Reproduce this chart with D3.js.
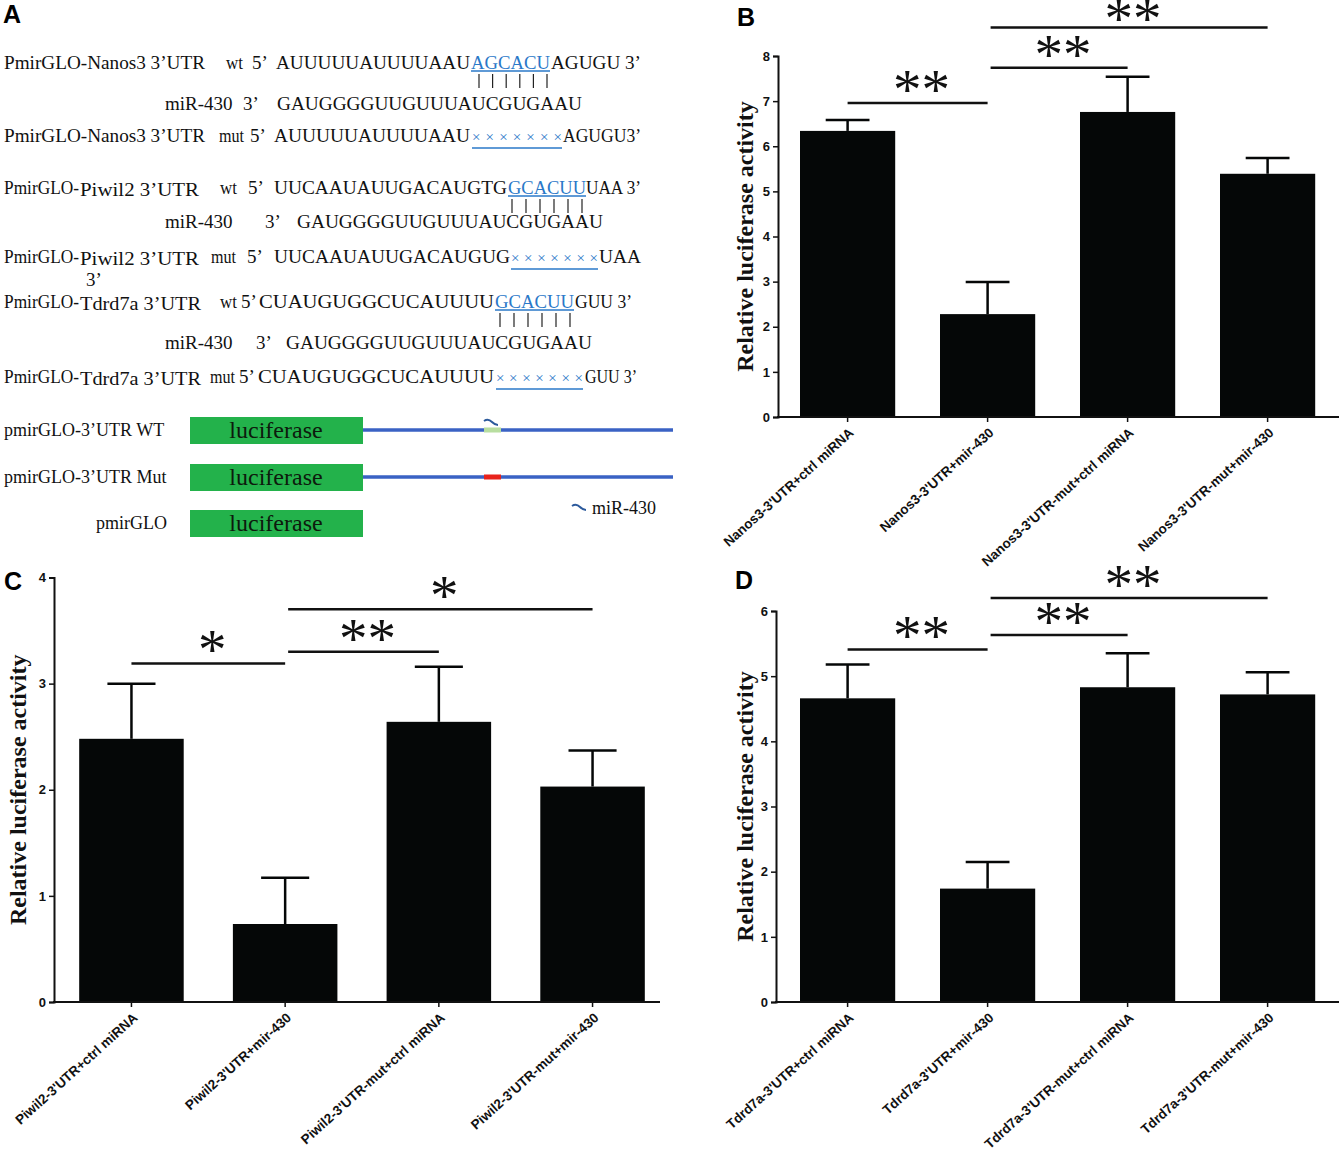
<!DOCTYPE html>
<html>
<head>
<meta charset="utf-8">
<script src="https://cdn.jsdelivr.net/npm/d3@7"></script>
<style>
  body { margin: 0; background: #fff; }
  svg { display: block; }
  .seq { font-family: "Liberation Serif", "Times New Roman", serif; font-size: 19px; }
  .tick-num { font-family: "Liberation Sans", Arial, sans-serif; font-weight: bold; font-size: 13px; fill: #111; }
  .cat { font-family: "Liberation Sans", Arial, sans-serif; font-weight: bold; font-size: 13.5px; fill: #111; }
  .ylab { font-family: "Liberation Serif", "Times New Roman", serif; font-weight: bold; font-size: 24px; fill: #111; }
  .star { font-family: "Liberation Serif", "Times New Roman", serif; font-size: 57px; fill: #111; }
  .panel { font-family: "Liberation Sans", Arial, sans-serif; font-weight: bold; font-size: 25px; fill: #000; }
</style>
</head>
<body>
<div id="fig"></div>
<script>
// ---- data ----
var catsB = ["Nanos3-3'UTR+ctrl miRNA", "Nanos3-3'UTR+mir-430", "Nanos3-3'UTR-mut+ctrl miRNA", "Nanos3-3'UTR-mut+mir-430"]
var valsB = [6.34, 2.28, 6.76, 5.39]
var errsB = [0.24, 0.71, 0.78, 0.35]
var ticksB = [0, 1, 2, 3, 4, 5, 6, 7, 8]
var sigsB = [[0, 1, "**", 6.96], [1, 2, "**", 7.74], [1, 3, "**", 8.63]]

var catsC = ["Piwil2-3'UTR+ctrl miRNA", "Piwil2-3'UTR+mir-430", "Piwil2-3'UTR-mut+ctrl miRNA", "Piwil2-3'UTR-mut+mir-430"]
var valsC = [2.48, 0.735, 2.64, 2.03]
var errsC = [0.52, 0.435, 0.52, 0.34]
var ticksC = [0, 1, 2, 3, 4]
var sigsC = [[0, 1, "*", 3.19], [1, 2, "**", 3.30], [1, 3, "*", 3.70]]

var catsD = ["Tdrd7a-3'UTR+ctrl miRNA", "Tdrd7a-3'UTR+mir-430", "Tdrd7a-3'UTR-mut+ctrl miRNA", "Tdrd7a-3'UTR-mut+mir-430"]
var valsD = [4.66, 1.74, 4.83, 4.72]
var errsD = [0.52, 0.41, 0.52, 0.34]
var ticksD = [0, 1, 2, 3, 4, 5, 6]
var sigsD = [[0, 1, "**", 5.41], [1, 2, "**", 5.63], [1, 3, "**", 6.2]]

var yLabel = "Relative luciferase activity"

// panel A sequence rows: [text, x, kind, width]
// kind: "" plain, "b" blue+underline, "x" blue crosses, "s" small gene name
var Q = "\u2019", X7 = "\u00d7\u00d7\u00d7\u00d7\u00d7\u00d7\u00d7"
var seqRows = [
  { y: 69, parts: [["PmirGLO-Nanos3 3" + Q + "UTR", 4, "", 201], ["wt", 226, "", 17], ["5" + Q, 252], ["AUUUUUAUUUUAAU", 276, "", 194], ["AGCACU", 471, "b", 79], ["AGUGU 3" + Q, 551, "", 90]], pairs: [479, 547] },
  { y: 110, parts: [["miR-430", 165], ["3" + Q, 243], ["GAUGGGGUUGUUUAUCGUGAAU", 277, "", 305]] },
  { y: 142, parts: [["PmirGLO-Nanos3 3" + Q + "UTR", 4, "", 201], ["mut", 219, "", 25], ["5" + Q, 250], ["AUUUUUAUUUUAAU", 274, "", 196], ["x", 472, "x", 90], ["AGUGU3" + Q, 563, "", 78]] },
  { y: 194, parts: [["PmirGLO-", 4, "", 75], ["Piwil2 3" + Q + "UTR", 80, "s", 119], ["wt", 220, "", 17], ["5" + Q, 248], ["UUCAAUAUUGACAUGTG", 274, "", 233], ["GCACUU", 508, "b", 78], ["UAA 3" + Q, 586, "", 55]], pairs: [512, 582] },
  { y: 228, parts: [["miR-430", 165], ["3" + Q, 265], ["GAUGGGGUUGUUUAUCGUGAAU", 297, "", 306]] },
  { y: 263, parts: [["PmirGLO-", 4, "", 75], ["Piwil2 3" + Q + "UTR", 80, "s", 119], ["mut", 211, "", 25], ["5" + Q, 247], ["UUCAAUAUUGACAUGUG", 274, "", 236], ["x", 511, "x", 87], ["UAA", 599, "", 42]] },
  { y: 286, parts: [["3" + Q, 86]] },
  { y: 308, parts: [["PmirGLO-", 4, "", 75], ["Tdrd7a 3" + Q + "UTR", 80, "s", 121], ["wt", 220, "", 17], ["5" + Q, 241], ["CUAUGUGGCUCAUUUU", 259, "", 235], ["GCACUU", 495, "b", 79], ["GUU 3" + Q, 575, "", 57]], pairs: [500, 570] },
  { y: 349, parts: [["miR-430", 165], ["3" + Q, 256], ["GAUGGGGUUGUUUAUCGUGAAU", 286, "", 306]] },
  { y: 383, parts: [["PmirGLO-", 4, "", 75], ["Tdrd7a 3" + Q + "UTR", 80, "s", 121], ["mut", 210, "", 25], ["5" + Q, 239], ["CUAUGUGGCUCAUUUU", 258, "", 236], ["x", 496, "x", 87], ["GUU 3" + Q, 585, "", 52]] }
]

var constructs = ["pmirGLO-3\u2019UTR WT", "pmirGLO-3\u2019UTR Mut", "pmirGLO"]
var siteColors = ["#b8dea0", "#e8231c", null]

var blueText = "#2a78c8"

var svg = d3.select("#fig").append("svg")
  .attr("width", 1342)
  .attr("height", 1170)
svg.append("rect").attr("width", 1342).attr("height", 1170).attr("fill", "#fff")

// panel letters
var letters = [["A", 3, 23], ["B", 737, 26], ["C", 4, 590], ["D", 735, 589]]
svg.selectAll("text.panel").data(letters).enter().append("text")
  .attr("class", "panel")
  .attr("x", function(d) { return d[1] })
  .attr("y", function(d) { return d[2] })
  .text(function(d) { return d[0] })

// ---- panel A: sequences ----
var gA = svg.append("g")
seqRows.forEach(function(row) {
  row.parts.forEach(function(p) {
    var kind = p[2] || ""
    var t = gA.append("text")
      .attr("class", "seq")
      .attr("x", p[1])
      .attr("y", row.y + (kind == "s" ? 2 : 0))
      .style("fill", (kind == "b" || kind == "x") ? blueText : "#111")
      .text(kind == "x" ? X7 : p[0])
    if (kind == "s") t.style("font-size", "18px")
    if (p[3] && kind != "x") {
      t.attr("textLength", p[3]).attr("lengthAdjust", "spacingAndGlyphs")
    }
    if (kind == "b") {
      gA.append("line")
        .attr("x1", p[1]).attr("x2", p[1] + p[3])
        .attr("y1", row.y + 2).attr("y2", row.y + 2)
        .attr("stroke", blueText).attr("stroke-width", 1.3)
    }
    if (kind == "x") {
      t.style("font-size", "15px")
        .attr("textLength", p[3])
        .attr("lengthAdjust", "spacing")
      gA.append("line")
        .attr("x1", p[1]).attr("x2", p[1] + p[3])
        .attr("y1", row.y + 6).attr("y2", row.y + 6)
        .attr("stroke", blueText).attr("stroke-width", 1.5)
    }
  })
  if (row.pairs) {
    var px = d3.range(6).map(function(i) { return row.pairs[0] + i * (row.pairs[1] - row.pairs[0]) / 5 })
    gA.selectAll(null).data(px).enter().append("line")
      .attr("x1", function(d) { return d }).attr("x2", function(d) { return d })
      .attr("y1", row.y + 5).attr("y2", row.y + 19)
      .attr("stroke", "#222").attr("stroke-width", 1.2)
  }
})

// ---- panel A: construct diagram ----
var rowY = [430, 477, 523]
constructs.forEach(function(name, i) {
  var cy = rowY[i]
  gA.append("text")
    .attr("class", "seq")
    .style("font-size", "18px")
    .style("fill", "#111")
    .attr("x", i == 2 ? 167 : 4)
    .attr("y", cy + 6)
    .attr("text-anchor", i == 2 ? "end" : "start")
    .text(name)
  if (i < 2) {
    gA.append("line")
      .attr("x1", 363).attr("x2", 673)
      .attr("y1", cy).attr("y2", cy)
      .attr("stroke", "#3a62c4").attr("stroke-width", 3.5)
    gA.append("rect")
      .attr("x", 484).attr("y", cy - 2.5)
      .attr("width", 17).attr("height", 5)
      .attr("fill", siteColors[i])
  }
  gA.append("rect")
    .attr("x", 190).attr("y", cy - 13)
    .attr("width", 173).attr("height", 27)
    .attr("fill", "#23b24b")
  gA.append("text")
    .attr("class", "seq")
    .style("font-size", "24px")
    .style("fill", "#0d1a0d")
    .attr("x", 276).attr("y", cy + 8)
    .attr("text-anchor", "middle")
    .text("luciferase")
})
// miRNA squiggles
var squiggle = function(x, y) {
  gA.append("path")
    .attr("d", "M" + x + "," + y + " c3,-2 6,-1 8,1 s4,3 6,3")
    .attr("fill", "none").attr("stroke", "#2c5a9c").attr("stroke-width", 2)
}
squiggle(484, 421)
squiggle(572, 506)
gA.append("text")
  .attr("class", "seq").style("font-size", "18px").style("fill", "#111")
  .attr("x", 592).attr("y", 514)
  .text("miR-430")

// ---- bar panels ----
function drawBars(cfg) {
  var g = svg.append("g")

  var x = d3.scaleBand()
    .domain(d3.range(cfg.cats.length))
    .range(cfg.xr)
    .paddingInner(0.32)
    .paddingOuter(0.16)
  var y = d3.scaleLinear()
    .domain([0, cfg.ticks[cfg.ticks.length - 1]])
    .range(cfg.yr)

  // bars
  g.selectAll("rect.bar").data(cfg.vals).enter().append("rect")
    .attr("class", "bar")
    .attr("x", function(d, i) { return x(i) })
    .attr("y", function(d) { return y(d) })
    .attr("width", x.bandwidth())
    .attr("height", function(d) { return y(0) - y(d) })
    .attr("fill", "#050707")

  // error bars (upper only)
  var capHalf = x.bandwidth() * 0.23
  cfg.vals.forEach(function(v, i) {
    var cx = x(i) + x.bandwidth() / 2
    g.append("line")
      .attr("x1", cx).attr("x2", cx)
      .attr("y1", y(v)).attr("y2", y(v + cfg.errs[i]))
      .attr("stroke", "#050707").attr("stroke-width", 2.5)
    g.append("line")
      .attr("x1", cx - capHalf).attr("x2", cx + capHalf)
      .attr("y1", y(v + cfg.errs[i])).attr("y2", y(v + cfg.errs[i]))
      .attr("stroke", "#050707").attr("stroke-width", 2.5)
  })

  // y axis
  var yAxis = d3.axisLeft(y).tickValues(cfg.ticks).tickSize(5).tickPadding(3)
    .tickFormat(d3.format("d"))
  var ay = g.append("g")
    .attr("transform", "translate(" + cfg.axisX + ",0)")
    .call(yAxis)
  ay.select(".domain").attr("stroke-width", 2).attr("stroke", "#111")
  ay.selectAll(".tick line").attr("stroke-width", 1.5).attr("stroke", "#111")
  ay.selectAll(".tick text").attr("class", "tick-num").attr("font-family", null).attr("font-size", null)

  // x axis
  var xAxis = d3.axisBottom(x).tickSize(5).tickFormat(function(i) { return cfg.cats[i] })
  var ax = g.append("g")
    .attr("transform", "translate(0," + y(0) + ")")
    .call(xAxis)
  ax.select(".domain").remove()
  ax.append("line")
    .attr("x1", cfg.axisX - 1).attr("x2", cfg.xEnd)
    .attr("y1", 0).attr("y2", 0)
    .attr("stroke", "#111").attr("stroke-width", 2)
  ax.selectAll(".tick line").attr("stroke-width", 1.5).attr("stroke", "#111")
  ax.selectAll(".tick text")
    .attr("class", "cat")
    .attr("font-family", null).attr("font-size", null)
    .attr("text-anchor", "end")
    .attr("dy", null)
    .attr("y", 0)
    .attr("transform", "translate(7,17) rotate(-42)")

  // y label
  g.append("text")
    .attr("class", "ylab")
    .attr("transform", "translate(" + cfg.labelX + "," + (y(0) + y(cfg.ticks[cfg.ticks.length - 1])) / 2 + ") rotate(-90)")
    .attr("text-anchor", "middle")
    .text(yLabel)

  // significance brackets
  cfg.sigs.forEach(function(s) {
    var x1 = x(s[0]) + x.bandwidth() / 2
    var x2 = x(s[1]) + x.bandwidth() / 2
    if (s[0] > 0) x1 += 3
    var ly = y(s[3])
    g.append("line")
      .attr("x1", x1).attr("x2", x2)
      .attr("y1", ly).attr("y2", ly)
      .attr("stroke", "#111").attr("stroke-width", 2.5)
    // keep the highest stars inside the picture
    g.append("text")
      .attr("class", "star")
      .attr("x", (x1 + x2) / 2 + 4)
      .attr("y", Math.max(ly + 6, 38))
      .attr("text-anchor", "middle")
      .text(s[2])
  })
}

drawBars({ cats: catsB, vals: valsB, errs: errsB, ticks: ticksB, sigs: sigsB,
  xr: [777.6, 1337.6], yr: [417, 56], axisX: 778, xEnd: 1339, labelX: 753 })
drawBars({ cats: catsC, vals: valsC, errs: errsC, ticks: ticksC, sigs: sigsC,
  xr: [54.6, 669.4], yr: [1002, 577.5], axisX: 54, xEnd: 660, labelX: 26 })
drawBars({ cats: catsD, vals: valsD, errs: errsD, ticks: ticksD, sigs: sigsD,
  xr: [777.6, 1337.6], yr: [1002, 611], axisX: 776, xEnd: 1339, labelX: 753 })
</script>
</body>
</html>
